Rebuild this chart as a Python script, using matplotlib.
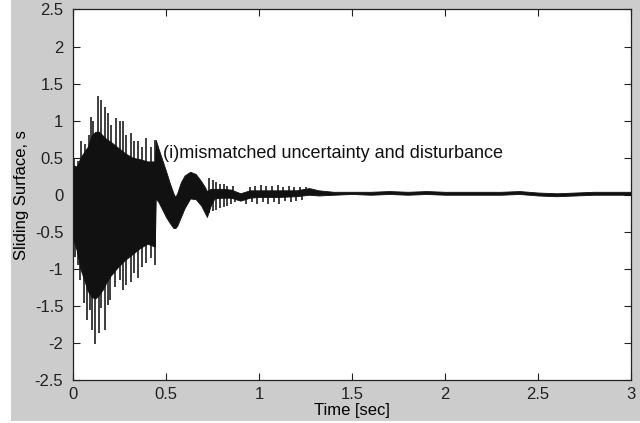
import matplotlib.pyplot as plt
import numpy as np
from matplotlib.patches import Rectangle

plt.rcParams["font.family"] = ["Liberation Sans", "DejaVu Sans"]

# dense core band of the signal (upper / lower envelope)
t_env = [0.00, 0.02, 0.04, 0.06, 0.08, 0.10, 0.12, 0.14, 0.16, 0.18, 0.20,
         0.24, 0.28, 0.32, 0.36, 0.40, 0.44, 0.445, 0.46, 0.48, 0.50, 0.52,
         0.54, 0.55, 0.56, 0.58, 0.60, 0.63, 0.66, 0.69, 0.71, 0.72, 0.74,
         0.76, 0.80, 0.85, 0.90, 0.95, 1.00, 1.10, 1.20, 1.27, 1.32, 1.40,
         1.50, 1.60, 1.70, 1.80, 1.90, 2.00, 2.10, 2.20, 2.30, 2.40, 2.50,
         2.60, 2.70, 2.80, 2.90, 3.00]
s_upper = [0.40, 0.38, 0.50, 0.58, 0.65, 0.80, 0.85, 0.85, 0.80, 0.75, 0.72,
           0.64, 0.56, 0.50, 0.48, 0.45, 0.45, 0.74, 0.62, 0.47, 0.32, 0.16,
           0.02, -0.03, 0.02, 0.17, 0.26, 0.31, 0.28, 0.18, 0.10, 0.05, 0.08,
           0.08, 0.08, 0.07, 0.02, 0.06, 0.06, 0.06, 0.06, 0.09, 0.06, 0.04,
           0.04, 0.04, 0.05, 0.04, 0.05, 0.04, 0.04, 0.04, 0.04, 0.05, 0.03,
           0.02, 0.03, 0.04, 0.04, 0.04]
s_lower = [-0.60, -0.75, -1.00, -1.15, -1.30, -1.38, -1.40, -1.35, -1.28, -1.18, -1.10,
           -0.98, -0.88, -0.80, -0.72, -0.66, -0.70, -0.05, -0.10, -0.20, -0.30, -0.38,
           -0.45, -0.45, -0.42, -0.30, -0.18, -0.05, -0.06, -0.15, -0.25, -0.30, -0.15,
           -0.05, -0.04, -0.04, -0.08, -0.04, -0.03, -0.03, -0.02, 0.00, -0.01, 0.00,
           0.01, 0.00, 0.01, 0.00, 0.01, 0.00, 0.00, 0.00, 0.00, 0.01, -0.01,
           -0.02, -0.01, 0.00, 0.00, 0.00]

# isolated spikes sticking out of the band
up_t = [0.005, 0.027, 0.043, 0.063, 0.087, 0.097, 0.11, 0.134, 0.15, 0.17,
        0.19, 0.205, 0.23, 0.25, 0.27, 0.285, 0.31, 0.33, 0.35, 0.37, 0.39,
        0.42, 0.44,
        0.73, 0.75, 0.77, 0.79, 0.81, 0.83, 0.86, 0.95, 0.98, 1.01, 1.04,
        1.07, 1.10, 1.13, 1.16, 1.19, 1.22, 1.25]
up_s = [0.48, 0.45, 0.72, 0.68, 0.80, 1.05, 1.00, 1.33, 1.28, 1.19,
        1.10, 0.94, 1.03, 1.00, 1.00, 0.80, 0.83, 0.72, 0.72, 0.65, 0.76,
        0.65, 0.74,
        0.22, 0.20, 0.17, 0.15, 0.14, 0.12, 0.12, 0.10, 0.12, 0.13, 0.12,
        0.12, 0.13, 0.11, 0.12, 0.10, 0.10, 0.10]
down_t = [0.01, 0.025, 0.04, 0.06, 0.075, 0.09, 0.10, 0.12, 0.14, 0.15, 0.17,
          0.19, 0.20, 0.225, 0.25, 0.27, 0.285, 0.31, 0.33, 0.35, 0.37, 0.39,
          0.42, 0.44,
          0.73, 0.75, 0.77, 0.79, 0.81, 0.83, 0.85, 0.87, 0.93, 0.96, 0.99,
          1.02, 1.05, 1.08, 1.11, 1.14, 1.17, 1.20, 1.23]
down_s = [-0.84, -0.95, -1.15, -1.46, -1.69, -1.55, -1.83, -2.02, -1.87, -1.53, -1.83,
          -1.49, -1.42, -1.24, -1.15, -1.29, -1.22, -1.18, -1.06, -1.12, -0.97, -0.92,
          -0.85, -0.95,
          -0.25, -0.22, -0.20, -0.18, -0.16, -0.15, -0.12, -0.10, -0.12, -0.10, -0.12,
          -0.10, -0.12, -0.10, -0.12, -0.09, -0.10, -0.08, -0.07]

x_ticks = [0, 0.5, 1, 1.5, 2, 2.5, 3]
y_ticks = [-2.5, -2, -1.5, -1, -0.5, 0, 0.5, 1, 1.5, 2, 2.5]

fig = plt.figure(figsize=(6.4, 4.23), dpi=100, facecolor="#cccccc")
fig.patches.append(Rectangle((0, 0), 11 / 640, 1, transform=fig.transFigure,
                             facecolor="white", edgecolor="none", zorder=-1))
fig.patches.append(Rectangle((0, 0), 1, 2 / 423, transform=fig.transFigure,
                             facecolor="white", edgecolor="none", zorder=-1))
ax = fig.add_axes([73 / 640, 1 - 380 / 423, 558 / 640, 370.5 / 423])

ax.vlines(up_t, 0, up_s, color="#1e1e1e", linewidth=1.2, zorder=1)
ax.vlines(down_t, 0, down_s, color="#1e1e1e", linewidth=1.2, zorder=1)
ax.fill_between(t_env, s_lower, s_upper, color="#111111", linewidth=0.6,
                edgecolor="#111111", zorder=2)

ax.text(0.485, 0.56, "(i)mismatched uncertainty and disturbance",
        fontsize=13, va="center", ha="left", color="#111111")

ax.set_xlim(0, 3)
ax.set_ylim(-2.5, 2.5)
ax.set_xticks(x_ticks, [f"{v:g}" for v in x_ticks])
ax.set_yticks(y_ticks, [f"{v:g}" for v in y_ticks])
ax.tick_params(direction="in", length=5, width=0.8, top=True, right=True,
               labelsize=12, colors="#222222")
ax.tick_params(axis="x", pad=5)
ax.tick_params(axis="y", pad=7)
for sp in ax.spines.values():
    sp.set_linewidth(0.9)
    sp.set_color("#222222")
ax.set_xlabel("Time [sec]", fontsize=12, labelpad=1)
ax.set_ylabel("Sliding Surface, s", fontsize=12, labelpad=4)

fig.savefig("out.png", dpi=100, facecolor=fig.get_facecolor())
